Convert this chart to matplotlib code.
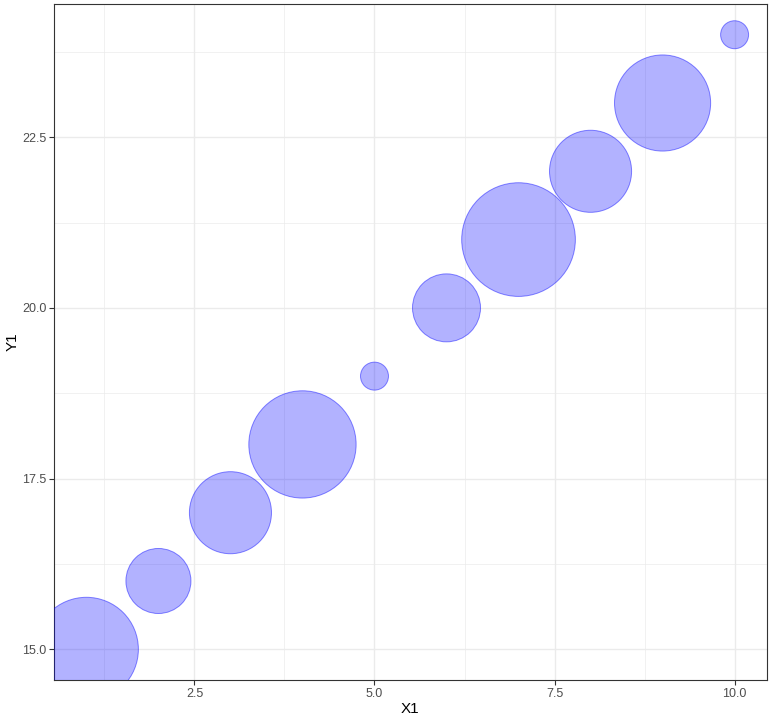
import numpy as np
import matplotlib
matplotlib.use("Agg")
import matplotlib.pyplot as plt
from matplotlib.ticker import MultipleLocator

plt.rcParams['font.family'] = ['Liberation Sans', 'DejaVu Sans']

# data
X1 = [1, 2, 3, 4, 5, 6, 7, 8, 9, 10]
Y1 = [15, 16, 17, 18, 19, 20, 21, 22, 23, 24]
Z1 = [13.8, 5.4, 8.6, 14.7, 1.0, 5.9, 16.5, 8.6, 11.8, 1.0]

# area scale: Z1 = 1 -> circle ~28 px across
s_unit = 406
sizes = [z * s_unit for z in Z1]

W, H = 773, 723
left, right, top, bottom = 54, 767, 4, 680

fig = plt.figure(figsize=(W / 100, H / 100), dpi=100)
ax = fig.add_axes([left / W, 1 - bottom / H, (right - left) / W, (bottom - top) / H])

ax.scatter(X1, Y1, s=sizes, facecolor=(0, 0, 1, 0.3), edgecolor=(0, 0, 1, 0.45),
           linewidth=0.7, zorder=3)

# ggplot style 5% expansion
xr = max(X1) - min(X1)
yr = max(Y1) - min(Y1)
ax.set_xlim(min(X1) - 0.05 * xr, max(X1) + 0.05 * xr)
ax.set_ylim(min(Y1) - 0.05 * yr, max(Y1) + 0.05 * yr)

ax.xaxis.set_major_locator(MultipleLocator(2.5))
ax.yaxis.set_major_locator(MultipleLocator(2.5))
ax.xaxis.set_minor_locator(MultipleLocator(1.25))
ax.yaxis.set_minor_locator(MultipleLocator(1.25))
ax.xaxis.set_major_formatter(lambda v, p: f"{v:.1f}")
ax.yaxis.set_major_formatter(lambda v, p: f"{v:.1f}")

ax.grid(True, which="major", color="#EBEBEB", linewidth=1.0, zorder=0)
ax.grid(True, which="minor", color="#EBEBEB", linewidth=0.5, zorder=0)
ax.set_axisbelow(True)

ax.tick_params(which="major", length=3.5, width=0.8, color="#333333",
               labelsize=9, labelcolor="#4D4D4D", pad=2)
ax.tick_params(which="minor", length=0)
for sp in ax.spines.values():
    sp.set_color("#333333")
    sp.set_linewidth(0.8)

ax.set_xlabel("X1", fontsize=11, color="black", va="center", ha="center")
ax.set_ylabel("Y1", fontsize=11, color="black", va="center", ha="center")
ax.xaxis.set_label_coords((410 - left) / (right - left), -(709 - bottom) / (bottom - top))
ax.yaxis.set_label_coords(-(left - 12.5) / (right - left), 0.5)

fig.savefig("out.png", dpi=100)
